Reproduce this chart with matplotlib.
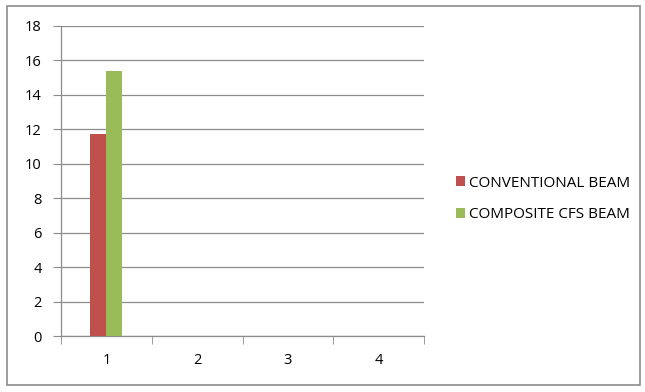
import matplotlib.pyplot as plt
import numpy as np
from matplotlib.patches import Rectangle

categories = ['1', '2', '3', '4']
conventional = [11.7, 0, 0, 0]
composite = [15.37, 0, 0, 0]
series_names = ['CONVENTIONAL BEAM', 'COMPOSITE CFS BEAM']
colors = ['#C0504D', '#9BBB59']
yticks = [0, 2, 4, 6, 8, 10, 12, 14, 16, 18]

plt.rcParams['font.family'] = ['Open Sans', 'DejaVu Sans']

W, H = 645, 392
fig = plt.figure(figsize=(W / 100, H / 100), dpi=100)
fig.patches.append(Rectangle((7 / W, 1 - 385 / H), 633 / W, 379 / H,
                             transform=fig.transFigure, fill=False,
                             edgecolor='#8c8c8c', linewidth=1.2))

ax = fig.add_axes([61 / W, 1 - 336 / H, (424 - 61) / W, (336 - 26) / H])

x = np.arange(len(categories))
bw = 0.177
ax.bar(x - bw / 2, conventional, bw, color=colors[0], label=series_names[0], zorder=3)
ax.bar(x + bw / 2, composite, bw, color=colors[1], label=series_names[1], zorder=3)

ax.set_xlim(-0.5, len(categories) - 0.5)
ax.set_ylim(0, 18)
ax.set_yticks(yticks)
ax.yaxis.grid(True, color='#8c8c8c', linewidth=0.9, zorder=0)
ax.set_xticks(x)
ax.set_xticklabels(categories)
ax.set_xticks(np.arange(len(categories) + 1) - 0.5, minor=True)

for side in ['top', 'right']:
    ax.spines[side].set_visible(False)
for side in ['left', 'bottom']:
    ax.spines[side].set_color('#8c8c8c')
    ax.spines[side].set_linewidth(0.9)

ax.tick_params(axis='y', length=6, color='#8c8c8c', labelsize=10.5, pad=8)
ax.tick_params(axis='x', which='major', length=0, labelsize=10.5, pad=12)
ax.tick_params(axis='x', which='minor', length=6, color='#8c8c8c')

leg = fig.legend(loc='center left', bbox_to_anchor=(442 / W, 1 - 199 / H),
                 frameon=False, fontsize=11, handlelength=0.6, handleheight=0.6,
                 handletextpad=0.25, labelspacing=1.1)

fig.savefig('out.png', dpi=100)
